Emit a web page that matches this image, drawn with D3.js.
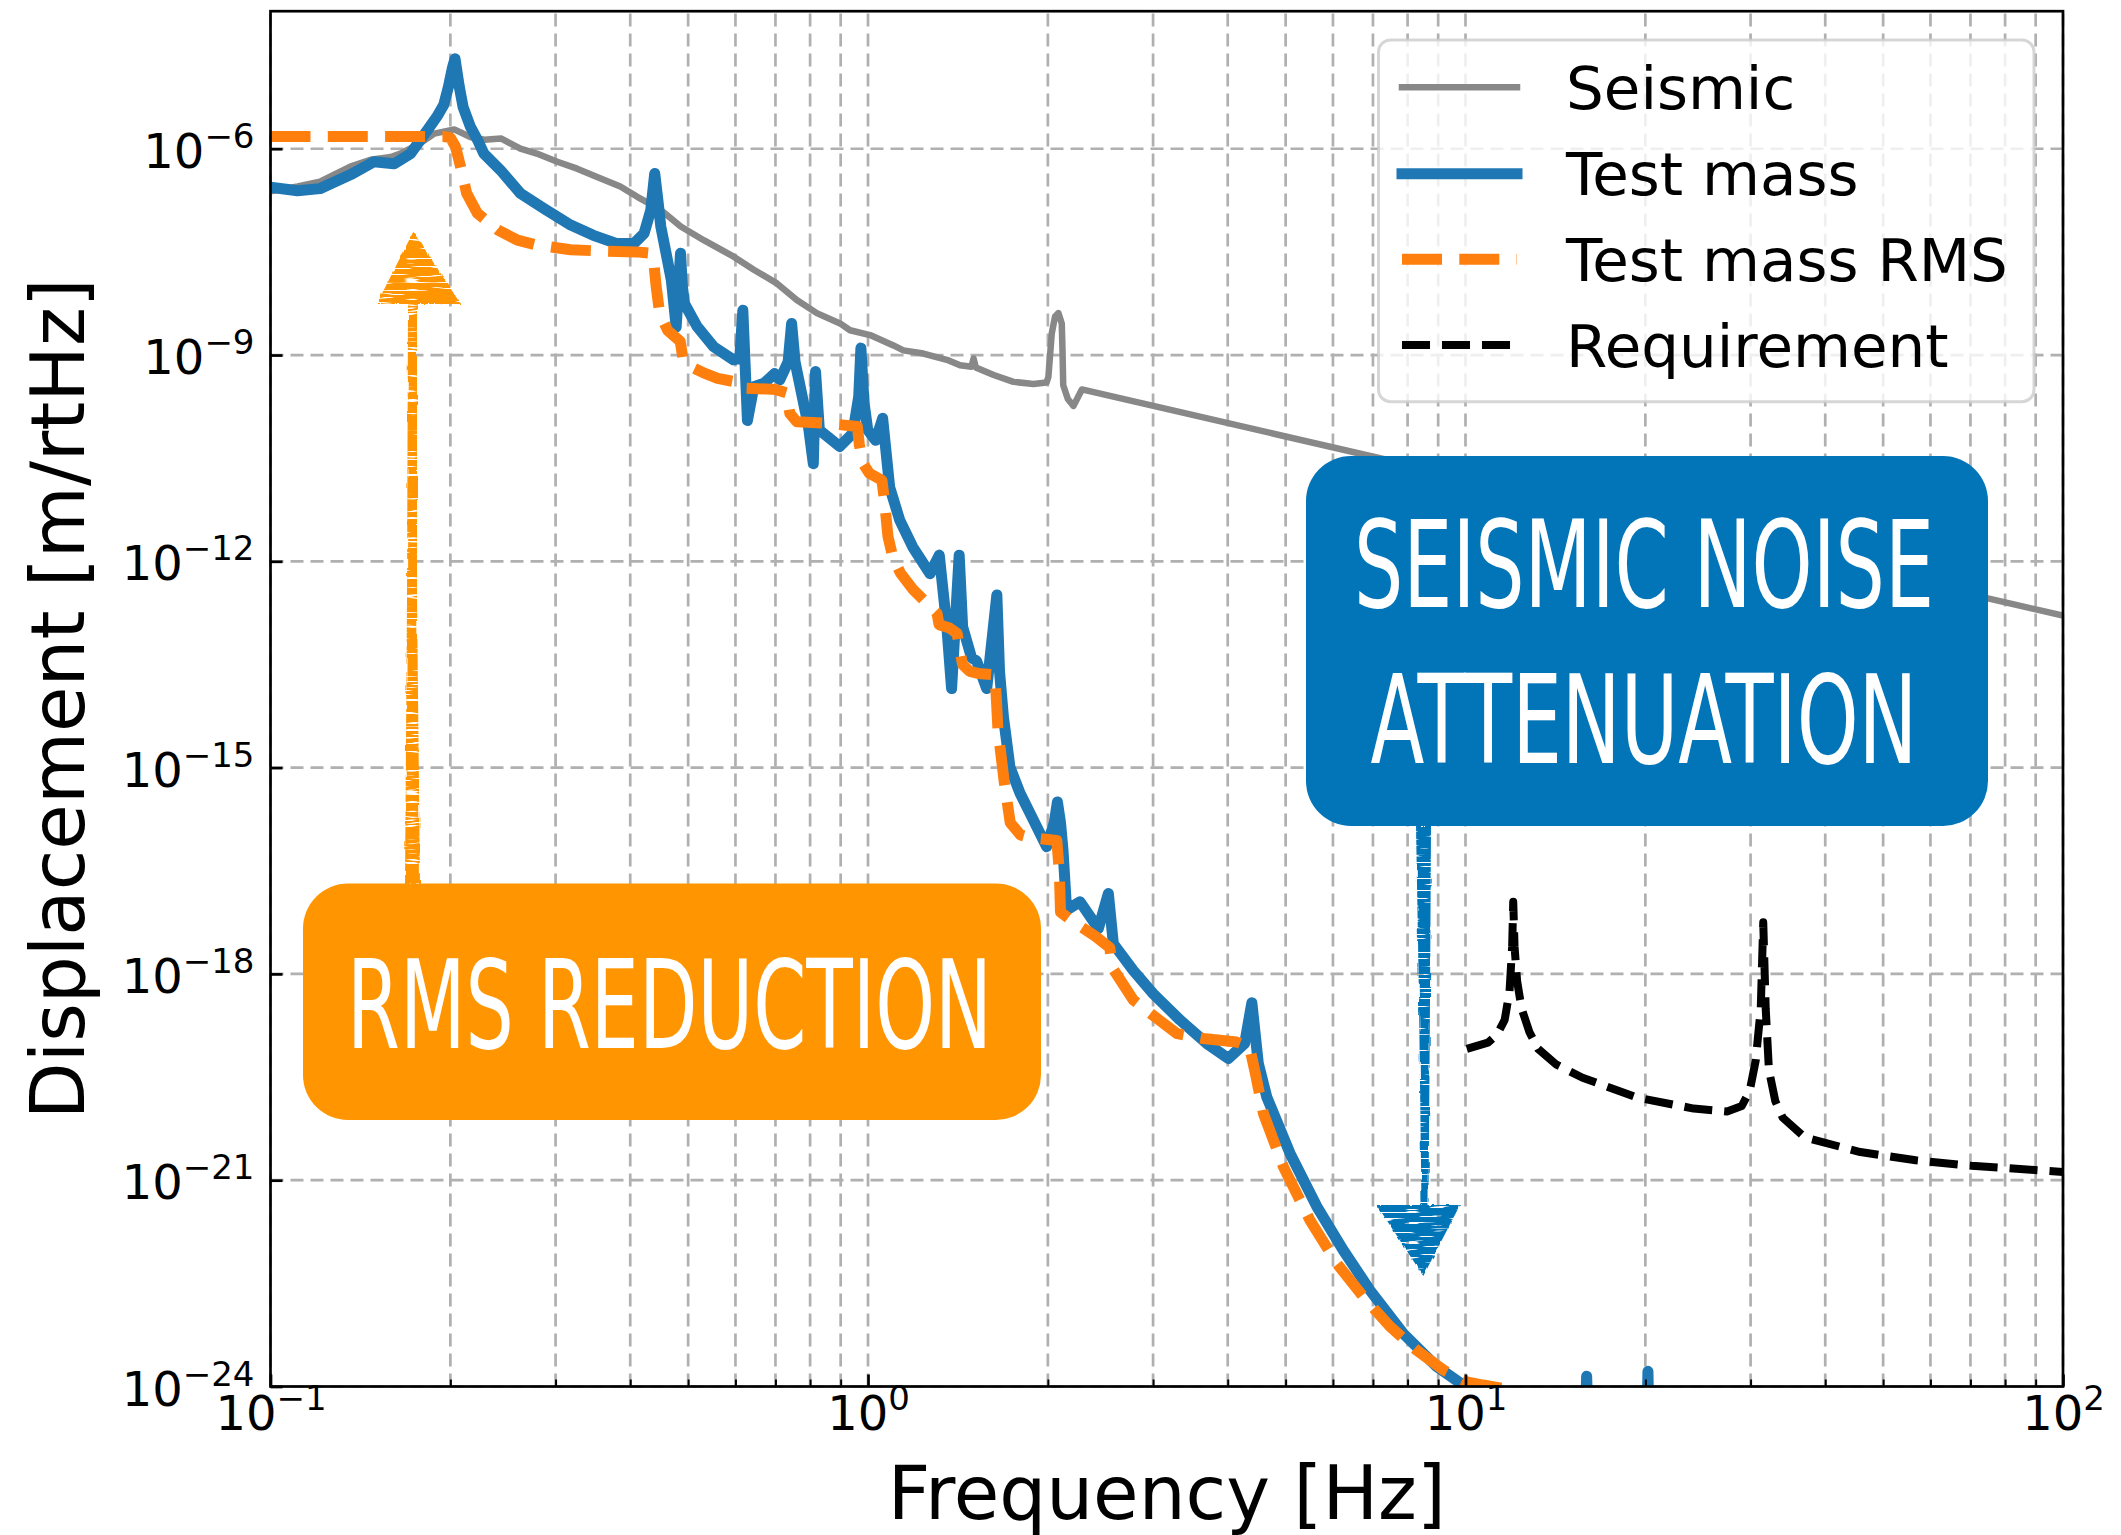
<!DOCTYPE html>
<html>
<head>
<meta charset="utf-8">
<script src="https://cdn.jsdelivr.net/npm/d3@7"></script>
<style>
  html, body { margin: 0; padding: 0; background: #ffffff; }
  svg { display: block; }
</style>
</head>
<body>
<svg id="chart" width="2121" height="1535"></svg>
<script>
// ---- Data: displacement spectra [m/rtHz] versus frequency [Hz] ----
const seismicFreq = [0.1, 0.111, 0.121, 0.136, 0.147, 0.159, 0.165, 0.178, 0.188, 0.203, 0.216, 0.228, 0.243, 0.262, 0.279, 0.302, 0.326, 0.352, 0.385, 0.411, 0.45, 0.486, 0.531, 0.596, 0.644, 0.704, 0.76, 0.821, 0.898, 0.933, 1.008, 1.103, 1.146, 1.238, 1.355, 1.426, 1.49, 1.502, 1.515, 1.623, 1.752, 1.892, 1.99, 2.004, 2.03, 2.056, 2.083, 2.11, 2.116, 2.122, 2.16, 2.207, 2.28, 100];
const seismicAsd = [2.40e-7, 2.82e-7, 3.31e-7, 5.50e-7, 6.92e-7, 7.59e-7, 8.51e-7, 1.20e-6, 1.66e-6, 1.91e-6, 1.48e-6, 1.35e-6, 1.41e-6, 1.0e-6, 8.51e-7, 6.46e-7, 5.13e-7, 3.89e-7, 2.82e-7, 2.0e-7, 1.29e-7, 7.41e-8, 4.68e-8, 2.69e-8, 1.74e-8, 1.10e-8, 6.31e-9, 4.07e-9, 2.88e-9, 2.29e-9, 1.95e-9, 1.38e-9, 1.17e-9, 1.05e-9, 8.51e-10, 7.08e-10, 6.76e-10, 8.91e-10, 6.61e-10, 5.13e-10, 4.07e-10, 3.80e-10, 3.98e-10, 4.79e-10, 2.04e-9, 3.63e-9, 4.07e-9, 2.88e-9, 1.17e-9, 3.63e-10, 2.29e-10, 1.82e-10, 3.16e-10, 1.62e-13];

const testMassFreq = [0.1, 0.111, 0.121, 0.136, 0.149, 0.161, 0.1716, 0.183, 0.19, 0.195, 0.1985, 0.2015, 0.2036, 0.205, 0.207, 0.21, 0.216, 0.222, 0.2276, 0.2425, 0.262, 0.287, 0.318, 0.347, 0.38, 0.4055, 0.422, 0.433, 0.4396, 0.445, 0.45, 0.4687, 0.4775, 0.482, 0.4855, 0.489, 0.4929, 0.518, 0.5517, 0.5956, 0.61, 0.6173, 0.6284, 0.644, 0.67, 0.6977, 0.712, 0.735, 0.745, 0.755, 0.77, 0.795, 0.81, 0.817, 0.829, 0.897, 0.943, 0.965, 0.973, 0.985, 0.999, 1.03, 1.058, 1.087, 1.13, 1.188, 1.27, 1.316, 1.355, 1.38, 1.421, 1.44, 1.49, 1.52, 1.58, 1.643, 1.66, 1.685, 1.728, 1.796, 1.891, 1.99, 2.05, 2.075, 2.1, 2.12, 2.15, 2.264, 2.43, 2.525, 2.574, 2.78, 3.003, 3.327, 3.688, 4.01, 4.27, 4.39, 4.5, 4.65, 5.086, 5.636, 6.246, 6.92, 7.87, 8.95, 9.91, 11, 13, 15.8, 15.95, 16.1, 20.05, 20.2, 20.35, 100];
const testMassAsd = [2.75e-7, 2.45e-7, 2.63e-7, 4.17e-7, 6.46e-7, 6.03e-7, 8.51e-7, 1.86e-6, 2.95e-6, 4.37e-6, 7.94e-6, 1.48e-5, 2.04e-5, 1.38e-5, 7.94e-6, 4.07e-6, 2.09e-6, 1.35e-6, 8.51e-7, 4.90e-7, 2.24e-7, 1.35e-7, 7.76e-8, 5.50e-8, 4.17e-8, 4.17e-8, 5.89e-8, 1.29e-7, 4.37e-7, 1.78e-7, 7.41e-8, 1.23e-8, 2.57e-9, 1.0e-8, 3.02e-8, 1.0e-8, 5.62e-9, 2.57e-9, 1.32e-9, 8.51e-10, 8.91e-10, 4.47e-9, 1.12e-10, 3.47e-10, 3.89e-10, 5.37e-10, 4.37e-10, 7.94e-10, 2.88e-9, 7.94e-10, 3.47e-10, 9.12e-11, 2.63e-11, 5.75e-10, 8.13e-11, 4.68e-11, 7.24e-11, 2.51e-10, 1.26e-9, 2.0e-10, 8.13e-11, 5.75e-11, 1.20e-10, 1.20e-11, 3.98e-12, 1.62e-12, 6.61e-13, 1.23e-12, 1.12e-13, 1.41e-14, 1.23e-12, 1.12e-13, 3.98e-14, 3.55e-14, 1.41e-14, 3.24e-13, 2.51e-14, 5.50e-15, 1.02e-15, 4.27e-16, 1.74e-16, 7.08e-17, 1.58e-16, 3.16e-16, 1.58e-16, 6.31e-17, 8.51e-18, 1.12e-17, 4.57e-18, 1.48e-17, 2.75e-18, 1.12e-18, 5.13e-19, 2.14e-19, 9.77e-20, 5.89e-20, 9.77e-20, 3.80e-19, 5.01e-20, 1.62e-20, 2.45e-21, 4.17e-22, 9.55e-23, 2.51e-23, 5.89e-24, 1.95e-24, 1.05e-24, 5.01e-25, 1.58e-25, 1.0e-25, 1.41e-24, 1.0e-25, 6.31e-26, 1.66e-24, 6.31e-26, 1.0e-28];

const rmsFreq = [0.1, 0.195, 0.2, 0.204, 0.208, 0.213, 0.222, 0.24, 0.259, 0.279, 0.318, 0.361, 0.41, 0.432, 0.438, 0.442, 0.448, 0.462, 0.485, 0.49, 0.5, 0.531, 0.56, 0.6, 0.615, 0.62, 0.70, 0.73, 0.74, 0.76, 0.85, 0.96, 0.967, 0.98, 1.005, 1.055, 1.065, 1.08, 1.1, 1.133, 1.19, 1.255, 1.305, 1.315, 1.37, 1.41, 1.425, 1.44, 1.48, 1.53, 1.63, 1.64, 1.65, 1.69, 1.73, 1.8, 1.87, 2.07, 2.09, 2.1, 2.22, 2.4, 2.54, 2.56, 2.78, 2.965, 3.29, 3.64, 4.14, 4.35, 4.45, 4.59, 4.96, 5.49, 6.09, 6.75, 7.48, 8.28, 9.18, 10.05, 10.7, 11.6, 13, 15];
const rmsAsd = [1.50e-6, 1.50e-6, 1.45e-6, 1.07e-6, 5.50e-7, 2.24e-7, 1.15e-7, 6.61e-8, 4.68e-8, 3.98e-8, 3.39e-8, 3.24e-8, 3.16e-8, 3.02e-8, 2.24e-8, 1.0e-8, 4.07e-9, 2.29e-9, 1.58e-9, 8.91e-10, 7.08e-10, 5.50e-10, 4.57e-10, 4.07e-10, 3.80e-10, 3.31e-10, 3.16e-10, 2.82e-10, 1.41e-10, 1.07e-10, 1.02e-10, 9.12e-11, 5.01e-11, 2.69e-11, 1.91e-11, 1.51e-11, 7.94e-12, 2.29e-12, 1.17e-12, 6.76e-13, 3.89e-13, 2.45e-13, 1.74e-13, 1.20e-13, 1.07e-13, 8.91e-14, 5.01e-14, 3.16e-14, 2.51e-14, 2.34e-14, 2.24e-14, 1.0e-14, 3.55e-15, 6.31e-16, 1.58e-16, 1.05e-16, 9.55e-17, 8.71e-17, 3.16e-17, 7.94e-18, 5.50e-18, 3.55e-18, 2.40e-18, 1.26e-18, 4.17e-19, 2.69e-19, 1.35e-19, 1.15e-19, 1.02e-19, 8.71e-20, 3.55e-20, 9.33e-21, 1.55e-21, 2.63e-22, 6.17e-23, 2.0e-23, 7.41e-24, 3.39e-24, 1.74e-24, 1.17e-24, 1.05e-24, 9.33e-25, 6.31e-25, 3.16e-25];

const reqFreq = [10.05, 10.9, 11.3, 11.63, 11.85, 11.97, 12.02, 12.08, 12.2, 12.41, 12.8, 13.23, 14.2, 15.7, 19.45, 24.1, 27.4, 29.0, 29.9, 30.6, 31.2, 31.5, 31.8, 32.2, 33.0, 33.95, 37, 45.8, 56.7, 70.3, 100];
const reqAsd = [8.13e-20, 1.0e-19, 1.32e-19, 2.14e-19, 5.62e-19, 2.51e-18, 1.12e-17, 2.51e-18, 7.94e-19, 3.16e-19, 1.41e-19, 8.13e-20, 4.79e-20, 3.09e-20, 1.58e-20, 1.10e-20, 1.0e-20, 1.20e-20, 2.0e-20, 5.50e-20, 3.16e-19, 5.62e-18, 3.16e-19, 3.98e-20, 1.41e-20, 8.13e-21, 4.17e-21, 2.57e-21, 1.95e-21, 1.62e-21, 1.32e-21];

// ---- Axis ticks ----
const xTickValues = [0.1, 1, 10, 100];
const xTickExponents = ["\u22121", "0", "1", "2"];
const yTickValues = [1e-24, 1e-21, 1e-18, 1e-15, 1e-12, 1e-9, 1e-6];
const yTickExponents = ["\u221224", "\u221221", "\u221218", "\u221215", "\u221212", "\u22129", "\u22126"];
const minorMultipliers = [2, 3, 4, 5, 6, 7, 8, 9];

const legendLabels = ["Seismic", "Test mass", "Test mass RMS", "Requirement"];

// ---- Layout ----
const plot = { left: 270.5, right: 2063, top: 11.2, bottom: 1386.5 };
const FONT = "'DejaVu Sans', sans-serif";

const x = d3.scaleLog().domain([0.1, 100]).range([plot.left, plot.right]);
const y = d3.scaleLog().domain([1e-24, 1e-4]).range([plot.bottom, plot.top]);

const xMinor = [];
[0.1, 1, 10].forEach(dec => minorMultipliers.forEach(m => xMinor.push(dec * m)));

const svg = d3.select("#chart");
svg.append("rect").attr("width", 2121).attr("height", 1535).attr("fill", "#ffffff");

const defs = svg.append("defs");
defs.append("clipPath").attr("id", "plotClip")
  .append("rect")
  .attr("x", plot.left).attr("y", plot.top)
  .attr("width", plot.right - plot.left).attr("height", plot.bottom - plot.top);

// pencil-like texture for the hand-drawn arrows
const sketch = defs.append("filter").attr("id", "sketch")
  .attr("x", "-20%").attr("y", "-5%").attr("width", "140%").attr("height", "110%");
sketch.append("feTurbulence").attr("type", "fractalNoise").attr("baseFrequency", "0.3 0.05")
  .attr("numOctaves", 2).attr("seed", 7).attr("result", "noise");
sketch.append("feDisplacementMap").attr("in", "SourceGraphic").attr("in2", "noise")
  .attr("scale", 3.5).attr("xChannelSelector", "R").attr("yChannelSelector", "G").attr("result", "rough");
sketch.append("feTurbulence").attr("type", "fractalNoise").attr("baseFrequency", "0.04 0.5")
  .attr("numOctaves", 1).attr("seed", 3).attr("result", "streak");
sketch.append("feColorMatrix").attr("in", "streak").attr("type", "matrix")
  .attr("values", "0 0 0 0 0  0 0 0 0 0  0 0 0 0 0  0 0 0 -14 9.6").attr("result", "mask");
sketch.append("feComposite").attr("in", "rough").attr("in2", "mask").attr("operator", "in");

// ---- Grid ----
const grid = svg.append("g").attr("stroke", "#b0b0b0").attr("stroke-width", 2.7)
  .attr("stroke-dasharray", "13 7").attr("fill", "none");
grid.selectAll("line.vx").data(xTickValues.concat(xMinor)).join("line")
  .attr("x1", d => x(d)).attr("x2", d => x(d))
  .attr("y1", plot.bottom).attr("y2", plot.top);
grid.selectAll("line.hy").data(yTickValues).join("line")
  .attr("x1", plot.left).attr("x2", plot.right)
  .attr("y1", d => y(d)).attr("y2", d => y(d));

// ---- Curves ----
const line = d3.line().x(d => x(d[0])).y(d => y(d[1]));
const curves = svg.append("g").attr("clip-path", "url(#plotClip)").attr("fill", "none")
  .attr("stroke-linejoin", "round");

curves.append("path").datum(d3.zip(seismicFreq, seismicAsd)).attr("d", line)
  .attr("stroke", "#888888").attr("stroke-width", 6.5);
curves.append("path").datum(d3.zip(testMassFreq, testMassAsd)).attr("d", line)
  .attr("stroke", "#1f77b4").attr("stroke-width", 11);
curves.append("path").datum(d3.zip(rmsFreq, rmsAsd)).attr("d", line)
  .attr("stroke", "#ff7f0e").attr("stroke-width", 11).attr("stroke-dasharray", "40 17.3");
curves.append("path").datum(d3.zip(reqFreq, reqAsd)).attr("d", line)
  .attr("stroke", "#000000").attr("stroke-width", 8).attr("stroke-dasharray", "28 12");

// ---- Axes (inward ticks) ----
const xAxis = svg.append("g").attr("transform", `translate(0,${plot.bottom})`)
  .call(d3.axisBottom(x).tickValues(xTickValues).tickSize(-12).tickFormat(""));
const xAxisMinor = svg.append("g").attr("transform", `translate(0,${plot.bottom})`)
  .call(d3.axisBottom(x).tickValues(xMinor).tickSize(-7).tickFormat(""));
const yAxis = svg.append("g").attr("transform", `translate(${plot.left},0)`)
  .call(d3.axisLeft(y).tickValues(yTickValues).tickSize(-12).tickFormat(""));
[xAxis, xAxisMinor, yAxis].forEach(g => {
  g.select(".domain").remove();
  g.selectAll(".tick line").attr("stroke", "#000").attr("stroke-width", 2.7);
});
xAxisMinor.selectAll(".tick line").attr("stroke-width", 2);

xAxis.selectAll(".tick").each(function (d, i) {
  const t = d3.select(this).append("text")
    .attr("x", 0).attr("y", 43).attr("text-anchor", "middle")
    .attr("font-family", FONT).attr("font-size", 48).attr("fill", "#000");
  t.append("tspan").text("10");
  t.append("tspan").attr("dy", -20).attr("font-size", 34).text(xTickExponents[i]);
});
yAxis.selectAll(".tick").each(function (d, i) {
  const t = d3.select(this).append("text")
    .attr("x", -16).attr("y", 18.5).attr("text-anchor", "end")
    .attr("font-family", FONT).attr("font-size", 48).attr("fill", "#000");
  t.append("tspan").text("10");
  t.append("tspan").attr("dy", -20).attr("font-size", 34).text(yTickExponents[i]);
});

// spines
svg.append("rect")
  .attr("x", plot.left).attr("y", plot.top)
  .attr("width", plot.right - plot.left).attr("height", plot.bottom - plot.top)
  .attr("fill", "none").attr("stroke", "#000").attr("stroke-width", 2.7);

// axis titles
svg.append("text")
  .attr("x", (plot.left + plot.right) / 2).attr("y", 1519)
  .attr("text-anchor", "middle").attr("font-family", FONT).attr("font-size", 74)
  .attr("fill", "#000").text("Frequency [Hz]");
svg.append("text")
  .attr("transform", `translate(84,${(plot.top + plot.bottom) / 2}) rotate(-90)`)
  .attr("text-anchor", "middle").attr("font-family", FONT).attr("font-size", 74)
  .attr("fill", "#000").text("Displacement [m/rtHz]");

// ---- Legend ----
const legend = svg.append("g");
legend.append("rect")
  .attr("x", 1378.5).attr("y", 40).attr("width", 655.5).attr("height", 361.7)
  .attr("rx", 12).attr("ry", 12)
  .attr("fill", "#ffffff").attr("fill-opacity", 0.8)
  .attr("stroke", "#cccccc").attr("stroke-opacity", 0.8).attr("stroke-width", 3);
const legendStyles = [
  { color: "#888888", width: 6.5, dash: null, cap: "square" },
  { color: "#1f77b4", width: 11, dash: null, cap: "square" },
  { color: "#ff7f0e", width: 11, dash: "40 17.3", cap: "butt" },
  { color: "#000000", width: 8, dash: "28 12", cap: "butt" }
];
const legendRows = [87.3, 173.7, 259.3, 345];
legendLabels.forEach((label, i) => {
  const s = legendStyles[i];
  legend.append("line")
    .attr("x1", 1402).attr("x2", 1517).attr("y1", legendRows[i]).attr("y2", legendRows[i])
    .attr("stroke", s.color).attr("stroke-width", s.width)
    .attr("stroke-dasharray", s.dash).attr("stroke-linecap", s.cap);
  legend.append("text")
    .attr("x", 1566).attr("y", legendRows[i] + 21.5)
    .attr("font-family", FONT).attr("font-size", 59.5).attr("fill", "#000")
    .text(label);
});

// ---- Callouts ----
const CALLOUT_FONT = "'Liberation Sans Narrow', 'DejaVu Sans Condensed', 'DejaVu Sans', sans-serif";
const ORANGE = "#ff9500";
const BLUE = "#0275b8";

// condensed white caption, squeezed horizontally to the wanted width
function caption(label, cx, baseline, width, size) {
  const t = svg.append("text")
    .attr("x", 0).attr("y", 0).attr("text-anchor", "middle")
    .attr("font-family", CALLOUT_FONT).attr("font-size", size).attr("fill", "#ffffff")
    .text(label);
  const natural = t.node().getComputedTextLength() || width;
  t.attr("transform", `translate(${cx},${baseline}) scale(${width / natural},1)`);
  return t;
}

// RMS reduction: box with an upward arrow
svg.append("path")
  .attr("d", "M405,884 L407,600 L408,303 L417,303 L417,600 L420,884 Z")
  .attr("fill", ORANGE).attr("filter", "url(#sketch)");
svg.append("path")
  .attr("d", "M376.7,304 L460.7,304 L413.3,231.7 Z")
  .attr("fill", ORANGE).attr("filter", "url(#sketch)");
svg.append("rect")
  .attr("x", 303).attr("y", 883.5).attr("width", 738).attr("height", 236.5)
  .attr("rx", 45).attr("ry", 45).attr("fill", ORANGE);
caption("RMS REDUCTION", 669.5, 1048.3, 645, 123);

// Seismic noise attenuation: box with a downward arrow
svg.append("path")
  .attr("d", "M1416,826 L1419,1000 L1421.5,1205 L1428.5,1205 L1430,1000 L1431,826 Z")
  .attr("fill", BLUE).attr("filter", "url(#sketch)");
svg.append("path")
  .attr("d", "M1376.7,1205 L1460,1205 L1423.3,1276 Z")
  .attr("fill", BLUE).attr("filter", "url(#sketch)");
svg.append("rect")
  .attr("x", 1306).attr("y", 456).attr("width", 682).attr("height", 370)
  .attr("rx", 45).attr("ry", 45).attr("fill", BLUE);
caption("SEISMIC NOISE", 1644, 607, 580, 121);
caption("ATTENUATION", 1644, 763, 547, 123);
</script>
</body>
</html>
